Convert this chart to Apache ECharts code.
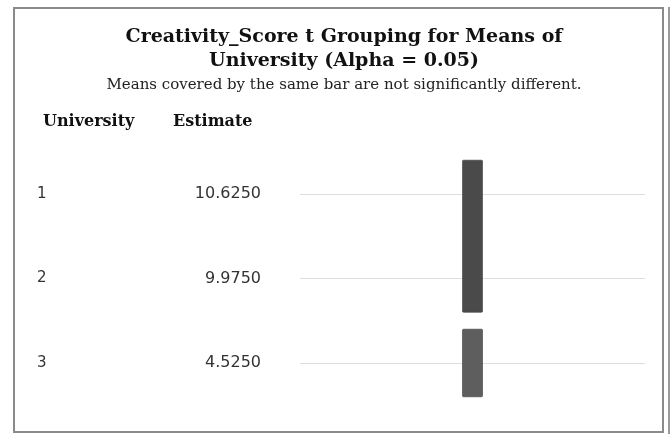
<!DOCTYPE html>
<html>
<head>
<meta charset="utf-8">
<script src="https://cdn.jsdelivr.net/npm/echarts@6/dist/echarts.min.js"></script>
<style>
  html, body { margin: 0; padding: 0; background: #fff; }
  #chart { width: 671px; height: 434px; }
</style>
</head>
<body>
<div id="chart"></div>
<script>
// rows of the grouping table
const universities = ['1', '2', '3'];
const estimates = ['10.6250', '9.9750', '4.5250'];
// each bar covers means from groupStart to groupEnd (row index)
const groupStart = [0, 2];
const groupEnd = [1, 2];
const groupColors = ['#4a4a4a', '#5e5e5e'];

const chart = echarts.init(document.getElementById('chart'));

const barData = groupStart.map((s, i) => [0.5, s, groupEnd[i]]);

const option = {
  animation: false,
  title: {
    text: 'Creativity_Score t Grouping for Means of\nUniversity (Alpha = 0.05)',
    subtext: 'Means covered by the same bar are not significantly different.',
    left: 339,
    top: 20,
    textAlign: 'center',
    itemGap: 5,
    textStyle: {
      fontFamily: 'DejaVu Serif',
      fontWeight: 'bold',
      fontSize: 19,
      lineHeight: 24,
      color: '#111'
    },
    subtextStyle: {
      fontFamily: 'DejaVu Serif',
      fontSize: 15,
      color: '#222'
    }
  },
  grid: { left: 300, right: 26, top: 194, bottom: 71 },
  xAxis: {
    type: 'value',
    min: 0,
    max: 1,
    show: false
  },
  yAxis: [
    {
      type: 'category',
      data: universities,
      inverse: true,
      boundaryGap: false,
      axisLine: { show: false },
      axisTick: { show: false },
      splitLine: { show: true, lineStyle: { color: '#dedede', width: 1 } },
      axisLabel: {
        align: 'left',
        margin: 263,
        fontFamily: 'DejaVu Sans',
        fontSize: 15,
        color: '#333'
      }
    },
    {
      type: 'category',
      data: universities,
      inverse: true,
      boundaryGap: false,
      position: 'left',
      axisLine: { show: false },
      axisTick: { show: false },
      splitLine: { show: false },
      axisLabel: {
        margin: 39,
        fontFamily: 'DejaVu Sans',
        fontSize: 16,
        color: '#333',
        formatter: (v, i) => estimates[i]
      }
    }
  ],
  series: [
    {
      type: 'custom',
      yAxisIndex: 0,
      data: barData,
      renderItem: (params, api) => {
        const band = api.size([0, 1])[1];
        const top = api.coord([api.value(0), api.value(1)]);
        const bottom = api.coord([api.value(0), api.value(2)]);
        const w = 20;
        return {
          type: 'rect',
          shape: {
            x: top[0] - w / 2,
            y: top[1] - band * 0.4,
            width: w,
            height: bottom[1] - top[1] + band * 0.8,
            r: 1
          },
          style: { fill: groupColors[params.dataIndex], stroke: '#3c3c3c', lineWidth: 0.6 }
        };
      }
    }
  ],
  graphic: [
    {
      type: 'rect',
      shape: { x: 14, y: 8, width: 649, height: 424 },
      style: { fill: 'none', stroke: '#8a8a8a', lineWidth: 2 }
    },
    {
      type: 'line',
      shape: { x1: 669, y1: 7, x2: 669, y2: 434 },
      style: { stroke: '#9a9a9a', lineWidth: 2 }
    },
    {
      type: 'text',
      left: 43,
      top: 114,
      style: {
        text: 'University',
        fontFamily: 'DejaVu Serif',
        fontWeight: 'bold',
        fontSize: 16,
        fill: '#111'
      }
    },
    {
      type: 'text',
      left: 173,
      top: 114,
      style: {
        text: 'Estimate',
        fontFamily: 'DejaVu Serif',
        fontWeight: 'bold',
        fontSize: 16,
        fill: '#111'
      }
    }
  ]
};

chart.setOption(option);
</script>
</body>
</html>
